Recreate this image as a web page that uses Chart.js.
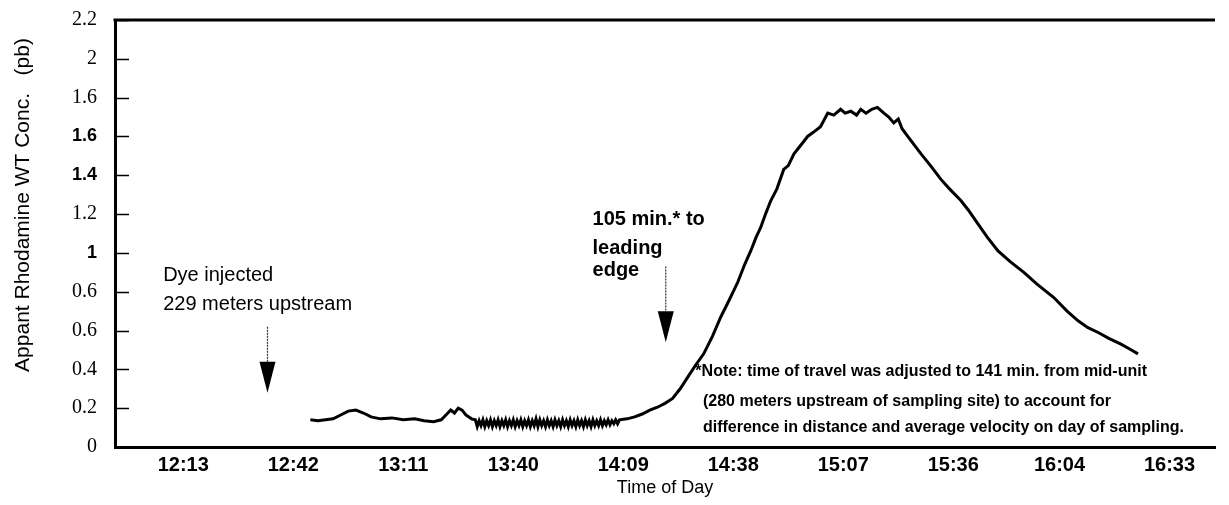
<!DOCTYPE html>
<html>
<head>
<meta charset="utf-8">
<script src="https://cdn.jsdelivr.net/npm/chart.js@4.4.1/dist/chart.umd.min.js"></script>
<style>
  body { margin: 0; background: #fff; }
  #wrap { width: 1229px; height: 505px; }
</style>
</head>
<body>
<div id="wrap"><canvas id="c"></canvas></div>
<script>
// tick labels as printed on the original figure
const xTickLabels = ['12:13', '12:42', '13:11', '13:40', '14:09', '14:38', '15:07', '15:36', '16:04', '16:33'];
const yTickValues = [0, 0.2, 0.4, 0.6, 0.8, 1, 1.2, 1.4, 1.6, 1.8, 2, 2.2];
const yTickLabels = ['0', '0.2', '0.4', '0.6', '0.6', '1', '1.2', '1.4', '1.6', '1.6', '2', '2.2'];

// time of day in minutes after midnight
const timeMin = [
  766.5, 768.5, 770.5, 772.5, 774.5, 776.5, 778.5, 780.5, 782.5, 785, 788, 791, 794, 796.5, 799, 801,
  802.5, 803.5, 804.5, 805.5, 806.5, 807.5, 809,
  810, 810.5, 811, 811.5, 812, 812.5, 813, 813.5, 814, 814.5, 815, 815.5, 816, 816.5, 817, 817.5,
  818, 818.5, 819, 819.5, 820, 820.5, 821, 821.5, 822, 822.5, 823, 823.5, 824, 824.5, 825, 825.5,
  826, 826.5, 827, 827.5, 828, 828.5, 829, 829.5, 830, 830.5, 831, 831.5, 832, 832.5, 833, 833.5,
  834, 834.5, 835, 835.5, 836, 836.5, 837, 837.5, 838, 838.5, 839, 839.5, 840, 840.5, 841, 841.5,
  842, 842.5, 843, 843.5, 844, 844.5, 845, 845.5, 846, 846.5, 847, 847.5, 848,
  850, 852, 854, 856, 858, 860, 862, 864, 866, 868, 870.2, 872.5, 874.7, 877, 879.2, 881, 882.6, 884,
  885.2, 886.5, 887.9, 889.5, 891.3, 892.5, 894, 896, 897.6, 899, 901, 902.9, 904.5, 906.3, 907.5, 909,
  910.5, 911.6, 913, 914.5, 916, 917.7, 919, 920.3, 921.5, 922.5, 924, 927.5, 930, 932.7, 935, 938,
  940, 942.5, 945, 947.8, 951, 954.6, 958, 962.5, 966, 968.9, 971.5, 974.2, 977, 980.2, 982.5, 984.7
];
// apparent rhodamine WT concentration (ppb)
const conc = [
  0.14, 0.135, 0.14, 0.145, 0.165, 0.185, 0.19, 0.175, 0.155, 0.145, 0.15, 0.14, 0.145, 0.135, 0.13, 0.14,
  0.17, 0.19, 0.175, 0.2, 0.19, 0.165, 0.145,
  0.14, 0.105, 0.135, 0.11, 0.14, 0.105, 0.135, 0.11, 0.14, 0.105, 0.135, 0.11, 0.14, 0.105, 0.135, 0.11,
  0.14, 0.105, 0.135, 0.11, 0.14, 0.105, 0.135, 0.11, 0.14, 0.105, 0.135, 0.11, 0.14, 0.105, 0.135, 0.11,
  0.145, 0.105, 0.14, 0.11, 0.135, 0.105, 0.14, 0.11, 0.135, 0.105, 0.14, 0.11, 0.135, 0.105, 0.14, 0.11,
  0.135, 0.105, 0.14, 0.11, 0.135, 0.105, 0.14, 0.11, 0.135, 0.105, 0.14, 0.11, 0.135, 0.105, 0.14, 0.11,
  0.135, 0.11, 0.14, 0.11, 0.135, 0.115, 0.14, 0.115, 0.135, 0.12, 0.14, 0.12, 0.14,
  0.145, 0.155, 0.17, 0.19, 0.205, 0.225, 0.25, 0.3, 0.36, 0.42, 0.48, 0.57, 0.67, 0.76, 0.85, 0.94, 1.01, 1.08,
  1.13, 1.2, 1.27, 1.33, 1.43, 1.45, 1.51, 1.56, 1.6, 1.62, 1.65, 1.72, 1.71, 1.74, 1.72, 1.73,
  1.71, 1.74, 1.72, 1.74, 1.75, 1.72, 1.7, 1.67, 1.69, 1.64, 1.6, 1.51, 1.45, 1.38, 1.33, 1.27,
  1.22, 1.15, 1.08, 1.01, 0.955, 0.9, 0.84, 0.77, 0.7, 0.65, 0.615, 0.59, 0.56, 0.53, 0.505, 0.48
];

const toMin = (s) => {
  const p = s.split(':');
  return +p[0] * 60 + +p[1];
};

const sans = 'Liberation Sans, Arial, sans-serif';
const serif = 'Liberation Serif, Times New Roman, serif';
const boldLabels = [1, 1.4, 1.6];

// annotations in data units
const notes = [
  { x: 727.7, y: 0.885, text: 'Dye injected', font: '20px ' + sans },
  { x: 727.7, y: 0.735, text: '229 meters upstream', font: '20px ' + sans },
  { x: 840.9, y: 1.17, text: '105 min.* to', font: 'bold 20px ' + sans },
  { x: 840.9, y: 1.025, text: 'leading', font: 'bold 20px ' + sans },
  { x: 840.9, y: 0.91, text: 'edge', font: 'bold 20px ' + sans },
  { x: 868, y: 0.387, text: '*Note: time of travel was adjusted to 141 min. from mid-unit', font: 'bold 16px ' + sans },
  { x: 870, y: 0.232, text: '(280 meters upstream of sampling site) to account for', font: 'bold 16px ' + sans },
  { x: 870, y: 0.098, text: 'difference in distance and average velocity on day of sampling.', font: 'bold 16px ' + sans }
];
const arrows = [
  { x: 755.2, top: 0.62, tip: 0.28 },
  { x: 860.2, top: 0.93, tip: 0.54 }
];

const decor = {
  id: 'decor',
  afterDraw(chart) {
    const ctx = chart.ctx;
    const xs = chart.scales.x, ys = chart.scales.y;
    const area = chart.chartArea;
    ctx.save();
    // top frame line
    ctx.strokeStyle = '#000';
    ctx.lineWidth = 3;
    ctx.beginPath();
    ctx.moveTo(area.left - 1.5, area.top);
    ctx.lineTo(area.right, area.top);
    ctx.stroke();
    // y tick marks pointing inward
    ctx.lineWidth = 1.5;
    ys.ticks.forEach((t) => {
      const py = Math.round(ys.getPixelForValue(t.value)) + 0.5;
      ctx.beginPath();
      ctx.moveTo(area.left, py);
      ctx.lineTo(area.left + 14, py);
      ctx.stroke();
    });
    // arrows
    arrows.forEach((a) => {
      const px = xs.getPixelForValue(a.x);
      const y0 = ys.getPixelForValue(a.top);
      const y1 = ys.getPixelForValue(a.tip);
      const headStart = y1 - 31;
      ctx.strokeStyle = '#333';
      ctx.lineWidth = 1.2;
      ctx.setLineDash([2, 1]);
      ctx.beginPath();
      ctx.moveTo(px, y0);
      ctx.lineTo(px, headStart);
      ctx.stroke();
      ctx.setLineDash([]);
      ctx.fillStyle = '#000';
      ctx.beginPath();
      ctx.moveTo(px - 8, headStart);
      ctx.lineTo(px + 8, headStart);
      ctx.lineTo(px, y1);
      ctx.closePath();
      ctx.fill();
    });
    // annotation text
    ctx.fillStyle = '#000';
    ctx.textBaseline = 'middle';
    ctx.textAlign = 'left';
    notes.forEach((n) => {
      ctx.font = n.font;
      ctx.fillText(n.text, xs.getPixelForValue(n.x), ys.getPixelForValue(n.y));
    });
    // y axis title
    ctx.translate(23, 205);
    ctx.rotate(-Math.PI / 2);
    ctx.textAlign = 'center';
    ctx.font = '21px ' + sans;
    ctx.fillText('Appant Rhodamine WT Conc.   (pb)', 0, 0);
    ctx.restore();
  }
};

new Chart(document.getElementById('c'), {
  type: 'line',
  data: {
    datasets: [{
      data: timeMin.map((t, i) => ({ x: t, y: conc[i] })),
      borderColor: '#000',
      borderWidth: 3,
      pointRadius: 0,
      tension: 0,
      fill: false
    }]
  },
  options: {
    responsive: true,
    maintainAspectRatio: false,
    animation: false,
    layout: { padding: { top: 20, right: 14, left: 0, bottom: 0 } },
    plugins: {
      legend: { display: false },
      tooltip: { enabled: false }
    },
    scales: {
      x: {
        type: 'linear',
        min: 715,
        max: 1005,
        grid: { display: false, drawTicks: false },
        border: { display: true, color: '#000', width: 3 },
        afterBuildTicks: (scale) => {
          scale.ticks = xTickLabels.map((l) => ({ value: toMin(l) }));
        },
        afterFit: (scale) => { scale.height = 58; },
        ticks: {
          autoSkip: false,
          maxRotation: 0,
          padding: 6,
          color: '#000',
          font: { family: sans, size: 20, weight: 'bold' },
          callback: (v, i) => xTickLabels[i]
        },
        title: {
          display: true,
          text: 'Time of Day',
          color: '#000',
          font: { family: sans, size: 18 },
          padding: { top: 0, bottom: 6 }
        }
      },
      y: {
        min: 0,
        max: 2.2,
        // tick marks are drawn inward by the plugin; tickLength only spaces the labels
        grid: { display: false, drawTicks: true, tickLength: 18 },
        border: { display: true, color: '#000', width: 3 },
        afterBuildTicks: (scale) => {
          scale.ticks = yTickValues.map((v) => ({ value: v }));
        },
        afterFit: (scale) => { scale.width = 115; },
        ticks: {
          autoSkip: false,
          padding: 0,
          color: '#000',
          font: (c) => boldLabels.includes(c.tick && c.tick.value)
            ? { family: sans, size: 18, weight: 'bold' }
            : { family: serif, size: 20 },
          callback: (v, i) => yTickLabels[i]
        }
      }
    }
  },
  plugins: [decor]
});
</script>
</body>
</html>
